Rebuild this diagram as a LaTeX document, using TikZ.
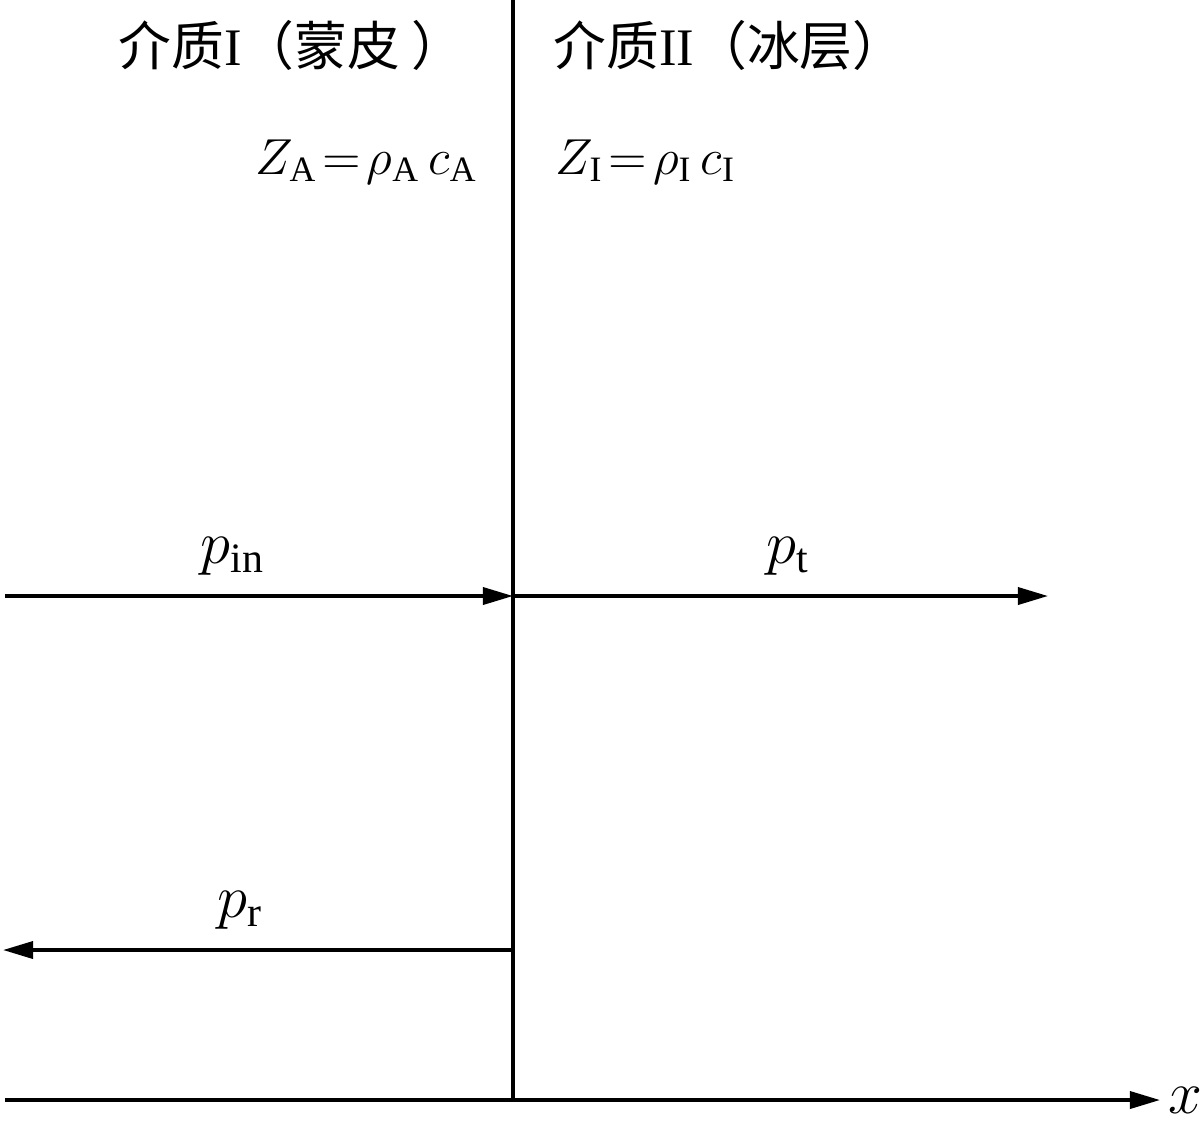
\documentclass[tikz,border=0pt]{standalone}
\usepackage{fontspec}
\setmainfont{Liberation Serif}
\newfontfamily\cjk{Noto Sans CJK SC}
\usetikzlibrary{arrows.meta, positioning}

\begin{document}
\begin{tikzpicture}[x = 0.01cm, y = -0.01cm,
ln/.style = {line width = 1pt},
arr/.style = {ln, -{Triangle[length = 0.3cm, width = 0.17cm]}},
ttl/.style = {inner sep = 0pt, font = \fontsize{15}{18}\selectfont},
lbl/.style = {inner sep = 0pt, font = \fontsize{14.5}{17}\selectfont},
plbl/.style = {inner sep = 0pt, font = \fontsize{17}{20}\selectfont}]
\useasboundingbox (0,0) rectangle (1200,1120);
\coordinate (T) at (513,0);
\coordinate (O) at (513,596);
\coordinate (R) at (513,950);
\coordinate (B) at (513,1100);
\coordinate (L1) at (5,596);
\coordinate (E1) at (1048,596);
\coordinate (L2) at (3,950);
\coordinate (X0) at (5,1100);
\coordinate (X1) at (1160,1100);
\draw[ln] (T) -- (B);
\foreach \i/\j in {
L1/O, O/E1, R/L2, X0/X1}{
\draw[arr] (\i) -- (\j);
}
\node[ttl, anchor = west] (skin) at (118,45) {{\cjk 介质}I{\cjk （蒙皮 ）}};
\node[ttl, anchor = west] (ice) at (553,45) {{\cjk 介质}II{\cjk （冰层）}};
\node[lbl, anchor = east] (ZA) at (478,162) {$Z_{\mathrm{A}}\!=\!\rho_{\mathrm{A}}\,c_{\mathrm{A}}$};
\node[lbl, anchor = west] (ZI) at (555,162) {$Z_{\mathrm{I}}\!=\!\rho_{\mathrm{I}}\,c_{\mathrm{I}}$};
\node[plbl] (pin) at (233,556) {$p_{\mathrm{in}}$};
\node[plbl] (pt) at (788,556) {$p_{\mathrm{t}}$};
\node[plbl] (pr) at (240,910) {$p_{\mathrm{r}}$};
\node[plbl] (xl) at (1185,1100) {$x$};
\end{tikzpicture}
\end{document}
